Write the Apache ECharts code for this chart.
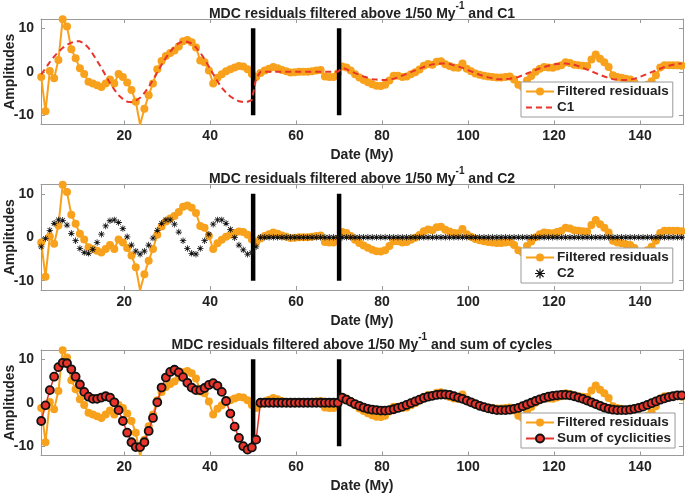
<!DOCTYPE html>
<html><head><meta charset="utf-8">
<script src="https://cdn.jsdelivr.net/npm/echarts@6/dist/echarts.min.js"></script>
<style>html,body{margin:0;padding:0;background:#fff}#c{width:685px;height:493px}</style>
</head><body><div id="c"></div>
<script>
// ---- data ----
const startDate = 0.7;   // first sample (My), one sample per My
const xTicks = [20, 40, 60, 80, 100, 120, 140];
const yTicks = [-10, 0, 10];
const boundaries = [50, 70];

const residuals = [
 -1.2, -9.1, 0.2, -1.5, 2.7, 12.1, 10.4, 5.2, 3.1, 0.8,
 -0.5, -2.3, -2.7, -3.1, -3.5, -2.7, -1.8, -2.7, -0.5, -1.2,
 -2.5, -4.2, -6.9, -12.2, -8.5, -5.4, -2.7, 0.6, 2.5, 3.6,
 4.3, 4.9, 5.8, 7.0, 7.3, 6.8, 5.6, 2.6, 2.2, 0.3,
 -2.7, -1.4, -0.6, 0.1, 0.6, 1.0, 1.3, 1.2, 0.6, -0.5,
 -1.2, -0.3, 0.3, 0.7, 1.1, 0.8, 0.4, 0.1, -0.2, -0.1,
 0.0, 0.0, 0.0, 0.1, 0.3, 0.4, -1.1, -1.2, -1.2, -0.4,
 1.2, 1.0, 0.3, -0.6, -1.3, -1.9, -2.4, -2.9, -3.2, -3.3,
 -3.0, -2.0, -0.9, -0.9, -1.2, -1.1, -0.6, -0.1, 0.5, 1.4,
 1.8, 1.6, 2.3, 2.4, 1.7, 1.3, 1.0, 0.9, 1.9, 0.7,
 0.1, -0.4, -0.7, -0.9, -1.1, -1.2, -1.3, -1.3, -1.2, -1.1,
 -1.8, -3.0, -3.5, -2.0, -1.0, 0.0, 0.7, 1.1, 1.0, 0.9,
 1.2, 1.5, 2.2, 2.0, 1.6, 1.5, 1.4, 1.3, 2.8, 4.0,
 3.0, 2.2, 1.1, -0.8, -1.2, -1.4, -1.6, -1.8, -2.5, -3.5,
 -4.0, -3.0, -2.2, -0.8, 1.0, 1.5, 1.5, 1.5, 1.5, 1.4
];

const c1 = [
 -0.6, 0.8, 2.2, 3.5, 4.6, 5.5, 6.2, 6.7, 7.0, 7.0,
 6.5, 5.5, 4.1, 2.5, 0.9, -0.9, -2.6, -4.1, -5.4, -6.3,
 -6.9, -7.0, -6.7, -6.0, -4.9, -3.5, -1.9, -0.2, 1.6, 3.2,
 4.6, 5.8, 6.6, 7.0, 6.9, 6.5, 5.6, 4.4, 2.9, 1.2,
 -0.5, -2.2, -3.7, -4.8, -5.7, -6.3, -6.8, -7.0, -6.9, -6.5,
 -1.5, 0, 0, 0, 0, 0, 0, 0, 0, 0,
 0, 0, 0, 0, 0, 0, 0, 0, 0, 0,
 0.9, 0.6, 0.1, -0.3, -0.7, -1.1, -1.4, -1.7, -1.8, -1.9,
 -1.9, -1.8, -1.6, -1.3, -0.9, -0.5, -0.1, 0.3, 0.7, 1.1,
 1.4, 1.7, 1.8, 1.9, 1.9, 1.8, 1.5, 1.2, 0.9, 0.5,
 0.1, -0.3, -0.7, -1.0, -1.3, -1.5, -1.7, -1.7, -1.7, -1.6,
 -1.4, -1.2, -0.8, -0.4, 0.0, 0.4, 0.8, 1.1, 1.4, 1.7,
 1.8, 1.9, 1.9, 1.8, 1.6, 1.3, 0.9, 0.5, 0.1, -0.3,
 -0.7, -1.1, -1.4, -1.7, -1.8, -1.9, -1.9, -1.8, -1.6, -1.3,
 -0.9, -0.5, -0.1, 0.3, 0.7, 1.1, 1.4, 1.6, 1.8, 1.9
];

const c2 = [
 -2.2, -0.3, 1.6, 3.2, 4.0, 3.9, 2.8, 0.9, -0.8, -2.6,
 -3.5, -3.7, -2.8, -1.2, 0.7, 2.6, 3.8, 4.0, 3.4, 2.0,
 0.1, -1.8, -3.2, -3.9, -3.2, -1.8, -0.2, 1.6, 3.2, 4.0,
 4.0, 3.0, 1.2, -0.8, -2.6, -3.7, -3.9, -2.6, -0.8, 0.7,
 3.0, 4.0, 4.0, 3.2, 1.8, -0.1, -1.8, -2.9, -3.9, -3.5,
 -2.2, 0, 0, 0, 0, 0, 0, 0, 0, 0,
 0, 0, 0, 0, 0, 0, 0, 0, 0, 0,
 0, 0, 0, 0, 0, 0, 0, 0, 0, 0,
 0, 0, 0, 0, 0, 0, 0, 0, 0, 0,
 0, 0, 0, 0, 0, 0, 0, 0, 0, 0,
 0, 0, 0, 0, 0, 0, 0, 0, 0, 0,
 0, 0, 0, 0, 0, 0, 0, 0, 0, 0,
 0, 0, 0, 0, 0, 0, 0, 0, 0, 0,
 0, 0, 0, 0, 0, 0, 0, 0, 0, 0,
 0, 0, 0, 0, 0, 0, 0, 0, 0, 0
];

const sumCycles = [
 -4.2, -0.6, 2.9, 6.0, 8.2, 9.2, 9.1, 7.7, 6.0, 4.2,
 2.5, 1.4, 0.9, 0.9, 1.2, 1.5, 1.2, 0.1, -1.7, -4.2,
 -6.9, -9.1, -10.2, -10.2, -9.1, -6.5, -3.5, 0.1, 3.5, 5.8,
 7.1, 7.6, 7.0, 5.9, 4.6, 3.5, 2.9, 2.9, 3.4, 4.1,
 4.5, 3.9, 2.5, 0.4, -2.5, -5.5, -8.1, -10.0, -10.8, -10.3,
 -8.5, 0, 0, 0, 0, 0, 0, 0, 0, 0,
 0, 0, 0, 0, 0, 0, 0, 0, 0, 0,
 1.2, 0.7, 0.2, -0.3, -0.7, -1.1, -1.4, -1.6, -1.7, -1.8,
 -1.8, -1.7, -1.5, -1.2, -0.9, -0.5, -0.1, 0.3, 0.7, 1.1,
 1.4, 1.6, 1.8, 1.9, 1.9, 1.8, 1.5, 1.2, 0.9, 0.5,
 0.1, -0.3, -0.7, -1.0, -1.3, -1.5, -1.7, -1.7, -1.7, -1.6,
 -1.4, -1.2, -0.8, -0.4, 0.0, 0.4, 0.8, 1.1, 1.4, 1.6,
 1.7, 1.8, 1.8, 1.7, 1.5, 1.2, 0.9, 0.5, 0.1, -0.3,
 -0.7, -1.1, -1.4, -1.6, -1.7, -1.7, -1.7, -1.6, -1.4, -1.2,
 -0.9, -0.5, -0.1, 0.3, 0.7, 1.0, 1.3, 1.5, 1.7, 1.7
];

const titles = ['C1', 'C2', 'sum of cycles'];

// ---- chart ----
const dates = residuals.map((_, i) => +(startDate + i).toFixed(2));
const pts = arr => arr.map((v, i) => [dates[i], v]);

const FONT = '"Liberation Sans", Arial, Helvetica, sans-serif';
const ORANGE = '#f7a11c';
const RED = '#e8342a';
const AXIS = '#9a9a9a';
const TXT = '#222222';
const ASTERISK = 'path://M0 8.8h20v2.4H0z M8.8 0h2.4v20h-2.4z M2.1 3.8L3.8 2.1L17.9 16.2L16.2 17.9z M16.2 2.1L17.9 3.8L3.8 17.9L2.1 16.2z';

const tops = [19, 184.5, 350];
const H = 105.5;
const grid = tops.map(t => ({left: 41, top: t, width: 642, height: H, containLabel: false, outerBoundsMode: 'none'}));

const xAxis = [], yAxis = [], series = [], title = [], legend = [];
const lbl = {fontSize: 14, fontWeight: 'bold', color: TXT, fontFamily: FONT};

tops.forEach((t, p) => {
  xAxis.push({
    type: 'value', gridIndex: p, min: 0.65, max: 150, position: 'bottom',
    axisLine: {show: true, onZero: false, lineStyle: {color: AXIS, width: 1}},
    axisTick: {show: true, inside: true, length: 4, customValues: xTicks, lineStyle: {color: AXIS}},
    axisLabel: Object.assign({customValues: xTicks, margin: 5}, lbl),
    splitLine: {show: false},
    name: 'Date (My)', nameLocation: 'middle', nameGap: 24,
    nameTextStyle: Object.assign({}, lbl)
  });
  xAxis.push({
    type: 'value', gridIndex: p, min: 0.65, max: 150, position: 'top',
    axisLine: {show: true, onZero: false, lineStyle: {color: AXIS, width: 1}},
    axisTick: {show: true, inside: true, length: 4, customValues: xTicks, lineStyle: {color: AXIS}},
    axisLabel: {show: false}, splitLine: {show: false}
  });
  yAxis.push({
    type: 'value', gridIndex: p, min: -12.15, max: 12.15, position: 'left',
    axisLine: {show: true, onZero: false, lineStyle: {color: AXIS, width: 1}},
    axisTick: {show: true, inside: true, length: 4, customValues: yTicks, lineStyle: {color: AXIS}},
    axisLabel: Object.assign({customValues: yTicks, margin: 7}, lbl),
    splitLine: {show: false},
    name: 'Amplitudes', nameLocation: 'middle', nameGap: 24, nameMoveOverlap: false,
    nameTextStyle: Object.assign({}, lbl)
  });
  yAxis.push({
    type: 'value', gridIndex: p, min: -12.15, max: 12.15, position: 'right',
    axisLine: {show: true, onZero: false, lineStyle: {color: AXIS, width: 1}},
    axisTick: {show: true, inside: true, length: 4, customValues: yTicks, lineStyle: {color: AXIS}},
    axisLabel: {show: false}, splitLine: {show: false}
  });

  title.push({
    text: '{b|MDC residuals filtered above 1/50 My}{s|-1}{b| and ' + titles[p] + '}',
    left: 362, textAlign: 'center', top: t - 18, padding: 0,
    textStyle: {
      rich: {
        b: {fontSize: 14, fontWeight: 'bold', color: TXT, fontFamily: FONT, lineHeight: 20, verticalAlign: 'bottom'},
        s: {fontSize: 10, fontWeight: 'bold', color: TXT, fontFamily: FONT, lineHeight: 10, verticalAlign: 'top'}
      }
    }
  });

  const xi = p * 2, yi = p * 2;
  series.push({
    name: 'Filtered residuals', type: 'line', xAxisIndex: xi, yAxisIndex: yi,
    data: pts(residuals), symbol: 'circle', symbolSize: 8, showSymbol: true,
    lineStyle: {color: ORANGE, width: 2}, itemStyle: {color: ORANGE}, z: 2
  });
  boundaries.forEach(b => series.push({
    type: 'line', xAxisIndex: xi, yAxisIndex: yi, silent: true, symbol: 'none',
    data: [[b, -10], [b, 10]], lineStyle: {color: '#000', width: 4.5}, z: 3
  }));

  let second, legendItem;
  if (p === 0) {
    second = {name: 'C1', type: 'line', xAxisIndex: xi, yAxisIndex: yi, data: pts(c1),
      symbol: 'none', lineStyle: {color: RED, width: 2, type: [6, 4]}, itemStyle: {color: RED}, z: 4};
    legendItem = {name: 'C1', itemStyle: {opacity: 0}};
  } else if (p === 1) {
    second = {name: 'C2', type: 'scatter', xAxisIndex: xi, yAxisIndex: yi, data: pts(c2),
      symbol: ASTERISK, symbolSize: 6.5, itemStyle: {color: '#111', opacity: 1}, z: 4};
    legendItem = {name: 'C2'};
  } else {
    second = {name: 'Sum of cyclicities', type: 'line', xAxisIndex: xi, yAxisIndex: yi, data: pts(sumCycles),
      symbol: 'circle', symbolSize: 8, showSymbol: true,
      lineStyle: {color: RED, width: 1.5},
      itemStyle: {color: RED, borderColor: '#111', borderWidth: 1.8}, z: 4};
    legendItem = {name: 'Sum of cyclicities'};
  }
  series.push(second);

  const lTop = [82, 248, 413][p];
  legend.push({
    data: ['Filtered residuals', legendItem], orient: 'vertical',
    left: 521, top: lTop, itemWidth: 28, itemHeight: 10, itemGap: 1,
    padding: [2, 4, 2, 4], borderColor: '#9a9a9a', borderWidth: 1, borderRadius: 0,
    backgroundColor: '#fff', selectedMode: false,
    textStyle: {fontSize: 13.5, fontWeight: 'bold', color: TXT, fontFamily: FONT, lineHeight: 15, padding: [0, 0, 0, -2]}
  });
});

const chart = echarts.init(document.getElementById('c'), null, {renderer: 'canvas'});
chart.setOption({animation: false, backgroundColor: '#fff', grid, xAxis, yAxis, series, title, legend});
</script></body></html>
